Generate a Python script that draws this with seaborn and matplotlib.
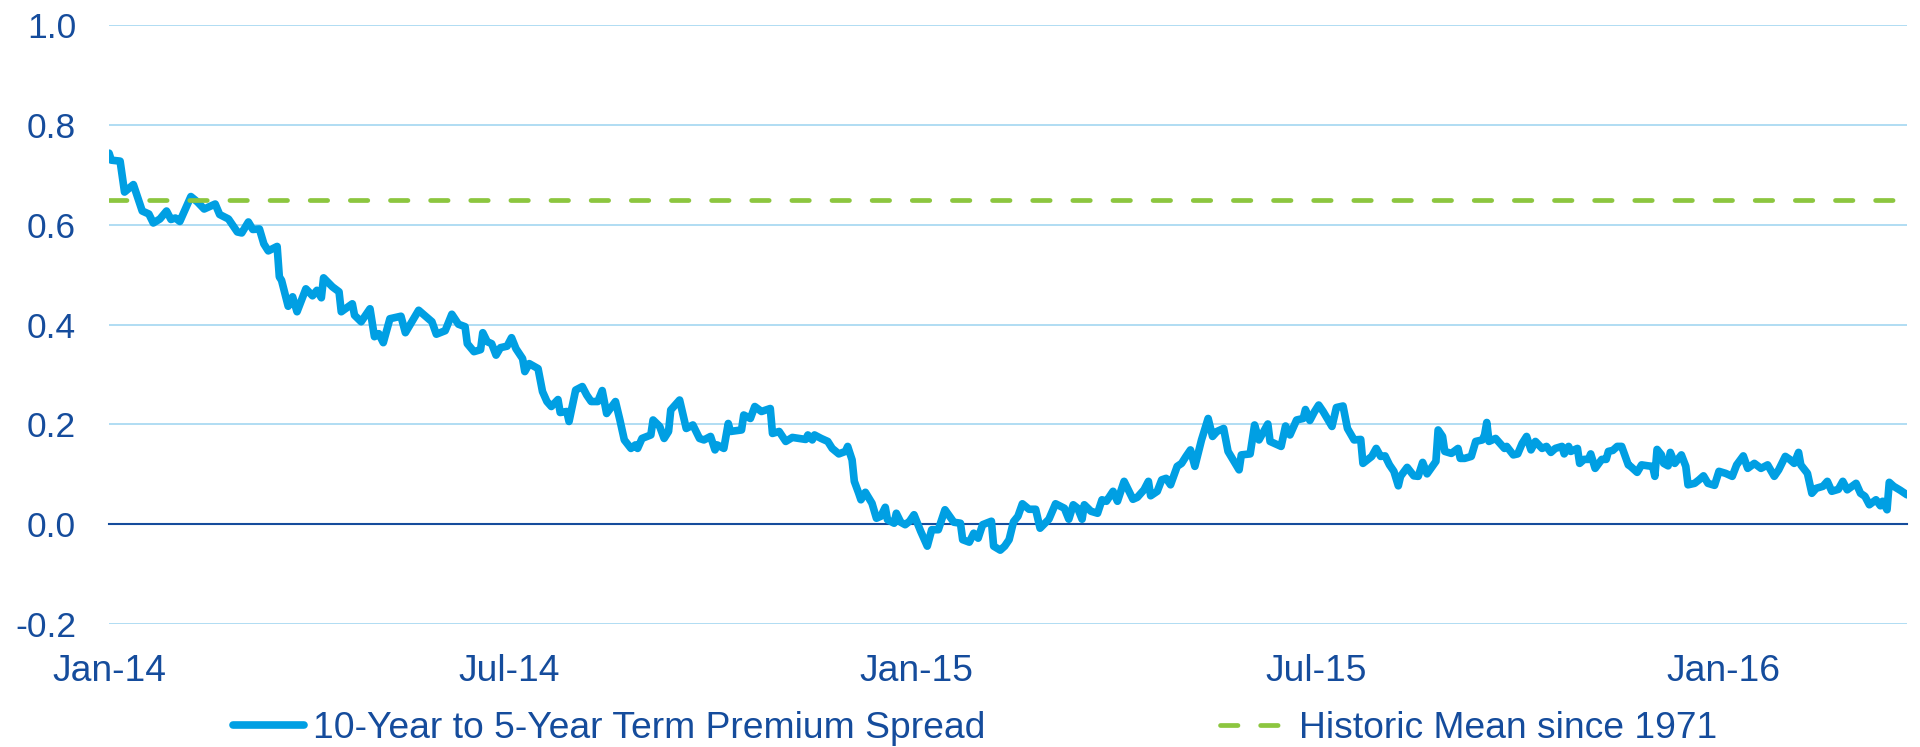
import pandas as pd
import matplotlib.pyplot as plt
import matplotlib.dates as mdates
from matplotlib.ticker import FormatStrFormatter
import seaborn as sns

sns.set_style("white")
plt.rcParams['font.family'] = ['Liberation Sans', 'DejaVu Sans']
plt.rcParams['axes.unicode_minus'] = False

#%% DATA

# days after 1 Jan 2014
day = [0, 1, 5, 7, 11, 15, 18, 20, 23, 26, 28, 30, 32, 37, 40, 43, 48, 50, 54, 58,
       60, 63, 65, 68, 70, 72, 76, 77, 78, 81, 83, 85, 89, 92, 94, 96, 97, 101, 104, 105,
       110, 111, 114, 118, 120, 122, 124, 127, 132, 134, 140, 146, 148, 152, 155, 158, 161, 162, 165, 168,
       169, 171, 173, 175, 177, 180, 182, 184, 187, 188, 190, 194, 196, 198, 200, 203, 204, 207, 208, 211,
       214, 216, 218, 221, 223, 225, 229, 231, 233, 236, 238, 239, 241, 245, 246, 249, 251, 253, 254, 258,
       261, 264, 267, 269, 272, 274, 275, 278, 280, 281, 286, 287, 290, 292, 295, 299, 300, 303, 306, 309,
       315, 316, 318, 319, 322, 325, 327, 330, 333, 334, 336, 337, 339, 340, 342, 345, 347, 349, 351, 352,
       355, 356, 358, 360, 362, 364, 367, 370, 372, 375, 378, 382, 385, 386, 389, 391, 393, 395, 399, 400,
       403, 405, 407, 409, 411, 413, 416, 419, 421, 425, 428, 432, 434, 436, 438, 440, 441, 444, 447, 449,
       451, 454, 456, 459, 463, 465, 468, 470, 471, 474, 476, 478, 480, 483, 485, 487, 489, 491, 494, 497,
       499, 501, 504, 506, 511, 512, 516, 518, 520, 524, 525, 530, 532, 534, 537, 540, 541, 543, 545, 547,
       549, 553, 555, 558, 560, 563, 566, 567, 571, 573, 575, 577, 579, 581, 583, 584, 587, 590, 592, 594,
       596, 600, 601, 603, 604, 607, 610, 611, 613, 616, 618, 621, 622, 623, 624, 627, 631, 632, 635, 637,
       639, 641, 643, 645, 648, 650, 652, 654, 657, 658, 660, 661, 664, 665, 667, 669, 670, 672, 675, 677,
       678, 680, 682, 684, 687, 688, 691, 693, 696, 698, 699, 700, 702, 703, 705, 706, 708, 711, 713, 714,
       717, 719, 721, 723, 726, 728, 731, 734, 736, 739, 741, 744, 747, 750, 753, 755, 758, 760, 762, 764,
       765, 768, 770, 772, 775, 777, 779, 782, 784, 786, 790, 792, 794, 796, 799, 801, 802, 804, 805, 807,
       810, 813]

spread = [0.744, 0.730, 0.728, 0.666, 0.681, 0.628, 0.622, 0.604, 0.612, 0.628, 0.611, 0.614, 0.607, 0.657, 0.646, 0.632, 0.642, 0.621, 0.612, 0.586,
          0.584, 0.606, 0.591, 0.592, 0.562, 0.548, 0.557, 0.496, 0.489, 0.437, 0.456, 0.426, 0.472, 0.458, 0.469, 0.454, 0.494, 0.476, 0.466, 0.426,
          0.442, 0.419, 0.406, 0.432, 0.376, 0.382, 0.364, 0.412, 0.417, 0.384, 0.429, 0.406, 0.381, 0.388, 0.421, 0.401, 0.396, 0.362, 0.346, 0.350,
          0.384, 0.366, 0.362, 0.339, 0.354, 0.357, 0.374, 0.352, 0.332, 0.306, 0.322, 0.312, 0.266, 0.246, 0.236, 0.250, 0.224, 0.226, 0.206, 0.269,
          0.276, 0.259, 0.246, 0.246, 0.268, 0.222, 0.246, 0.209, 0.169, 0.152, 0.159, 0.152, 0.172, 0.179, 0.209, 0.196, 0.172, 0.186, 0.229, 0.249,
          0.192, 0.199, 0.172, 0.169, 0.176, 0.149, 0.159, 0.152, 0.202, 0.186, 0.189, 0.219, 0.212, 0.236, 0.226, 0.232, 0.182, 0.186, 0.166, 0.174,
          0.170, 0.179, 0.169, 0.179, 0.172, 0.166, 0.152, 0.141, 0.146, 0.156, 0.129, 0.086, 0.062, 0.049, 0.064, 0.042, 0.012, 0.016, 0.034, 0.009,
          0.002, 0.022, 0.004, -0.001, 0.006, 0.019, -0.014, -0.044, -0.011, -0.011, 0.029, 0.004, 0.002, -0.031, -0.036, -0.018, -0.028, -0.001, 0.006, -0.044,
          -0.052, -0.044, -0.031, 0.005, 0.016, 0.041, 0.030, 0.030, -0.008, 0.010, 0.041, 0.032, 0.010, 0.039, 0.032, 0.010, 0.039, 0.026, 0.022, 0.049,
          0.046, 0.066, 0.046, 0.086, 0.050, 0.054, 0.069, 0.086, 0.057, 0.066, 0.089, 0.092, 0.079, 0.116, 0.122, 0.136, 0.149, 0.116, 0.169, 0.212,
          0.176, 0.186, 0.192, 0.146, 0.109, 0.139, 0.141, 0.199, 0.169, 0.201, 0.166, 0.156, 0.197, 0.179, 0.209, 0.212, 0.230, 0.208, 0.225, 0.239,
          0.226, 0.196, 0.234, 0.237, 0.192, 0.169, 0.170, 0.122, 0.136, 0.152, 0.136, 0.137, 0.119, 0.106, 0.077, 0.096, 0.114, 0.097, 0.096, 0.124,
          0.101, 0.126, 0.189, 0.176, 0.146, 0.142, 0.152, 0.132, 0.132, 0.136, 0.166, 0.169, 0.179, 0.204, 0.166, 0.172, 0.152, 0.156, 0.139, 0.141,
          0.162, 0.176, 0.149, 0.166, 0.152, 0.156, 0.144, 0.152, 0.156, 0.141, 0.156, 0.146, 0.152, 0.122, 0.130, 0.130, 0.141, 0.112, 0.130, 0.130,
          0.146, 0.148, 0.156, 0.156, 0.119, 0.116, 0.104, 0.119, 0.117, 0.116, 0.096, 0.150, 0.139, 0.122, 0.117, 0.144, 0.122, 0.139, 0.116, 0.079,
          0.082, 0.089, 0.097, 0.082, 0.078, 0.106, 0.102, 0.096, 0.119, 0.137, 0.112, 0.122, 0.112, 0.119, 0.096, 0.109, 0.136, 0.130, 0.122, 0.144,
          0.119, 0.102, 0.062, 0.072, 0.076, 0.086, 0.066, 0.070, 0.086, 0.069, 0.082, 0.062, 0.056, 0.039, 0.049, 0.037, 0.046, 0.029, 0.084, 0.076,
          0.068, 0.059]

hist_mean = 0.65
start_date = '2014-01-01'
end_date = '2016-03-24'
y_ticks = [-0.2, 0.0, 0.2, 0.4, 0.6, 0.8, 1.0]
label_spread = '10-Year to 5-Year Term Premium Spread'
label_mean = 'Historic Mean since 1971'

df = pd.DataFrame({'Date': pd.Timestamp(start_date) + pd.to_timedelta(day, unit='D'),
                   'Spread': spread})

#%% PLOT

c_line = '#009FE3'
c_mean = '#8CC63F'
c_text = '#154C9C'
c_grid = '#9BD3F0'
fs = 26.8

fig = plt.figure(figsize=(19.2, 7.47), dpi=100)
ax = fig.add_axes([0.0568, 0.1647, 0.9364, 0.8012])

sns.lineplot(data=df, x='Date', y='Spread', ax=ax, color=c_line, lw=5.5,
             label=label_spread, solid_joinstyle='round', solid_capstyle='round',
             zorder=3)
ax.axhline(hist_mean, color=c_mean, lw=3.4, ls=(0, (3.7, 4.8)),
           dash_capstyle='round', label=label_mean, zorder=4)

ax.set_xlim(pd.Timestamp(start_date), pd.Timestamp(end_date))
ax.set_ylim(y_ticks[0], y_ticks[-1])
ax.set_yticks(y_ticks)
ax.yaxis.set_major_formatter(FormatStrFormatter('%.1f'))
ax.yaxis.grid(True, color=c_grid, lw=1.1)
ax.set_xlabel('')
ax.set_ylabel('')

# x axis sits on zero, labels underneath the plot
for s in ['top', 'right', 'left']:
    ax.spines[s].set_visible(False)
ax.spines['bottom'].set_position(('data', 0))
ax.spines['bottom'].set_color(c_text)
ax.spines['bottom'].set_linewidth(1.5)
ax.spines['bottom'].set_zorder(2)

ax.xaxis.set_major_locator(mdates.MonthLocator(bymonth=[1, 7]))
ax.xaxis.set_minor_locator(mdates.MonthLocator(bymonth=[4, 10]))
ax.xaxis.set_major_formatter(mdates.DateFormatter('%b-%y'))
ax.tick_params(axis='x', which='major', direction='inout', length=15.8, width=1.3,
               color=c_text, labelcolor=c_text, labelsize=fs, pad=85.5)
ax.tick_params(axis='x', which='minor', direction='inout', length=11.5, width=1.3,
               color=c_text)
ax.tick_params(axis='y', length=0, labelcolor=c_text, labelsize=25.5, pad=23.8)

handles, labels = ax.get_legend_handles_labels()
ax.get_legend().remove()
fig.legend(handles, labels, loc='center left', bbox_to_anchor=(0.1214, 0.025),
           ncol=2, frameon=False, fontsize=fs, labelcolor=c_text,
           handlelength=1.9, handletextpad=0.24, columnspacing=6.3,
           borderpad=0, borderaxespad=0)

fig.savefig('out.png', dpi=100)
